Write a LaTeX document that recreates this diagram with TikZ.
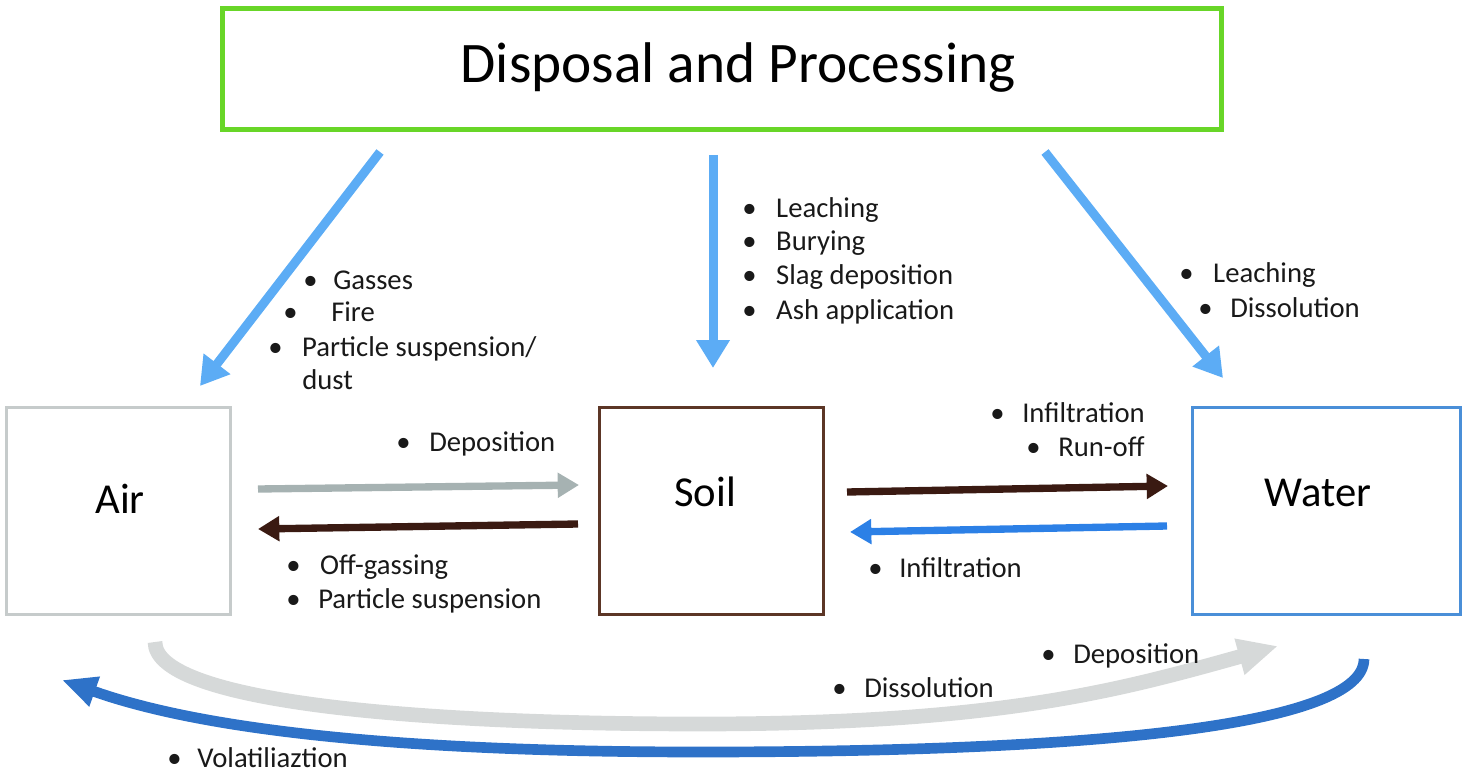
\documentclass[tikz,border=0pt]{standalone}
\usepackage{fontspec}
\setmainfont{Carlito}
\usetikzlibrary{arrows.meta}
\definecolor{boxgreen}{RGB}{104,214,40}
\definecolor{lblue}{RGB}{92,172,245}
\definecolor{airgray}{RGB}{198,203,203}
\definecolor{arrgray}{RGB}{166,178,178}
\definecolor{soilbrown}{RGB}{92,54,38}
\definecolor{dbrown}{RGB}{58,26,18}
\definecolor{waterblue}{RGB}{74,143,216}
\definecolor{arrblue}{RGB}{44,128,230}
\definecolor{curvegray}{RGB}{214,217,217}
\definecolor{curveblue}{RGB}{46,114,200}
\newdimen\pxu \pxu=0.75pt
\tikzset{
  box/.style={draw, minimum width=168pt, minimum height=155pt, inner sep=0pt},
  big/.style={font=\fontsize{32}{36}\selectfont, anchor=base, inner sep=0pt},
  lab/.style={font=\fontsize{21.5}{24}\selectfont, anchor=base west, inner sep=0pt, text=black!90},
  downarr/.style={lblue, line width=6.75pt, -{Triangle[length=21pt,width=24pt]}},
  harr/.style={line width=5.5pt, -{Triangle[length=16pt,width=18pt]}},
}
\newcommand{\bul}[2]{\makebox[#1\pxu][l]{\textbullet}#2}
\begin{document}
\begin{tikzpicture}[x=0.75pt,y=-0.75pt]
\useasboundingbox (0,0) rectangle (1465,774);
% boxes
\node[draw=boxgreen, line width=4pt, minimum width=749pt, minimum height=90.75pt, inner sep=0pt] (top) at (722,69) {};
\node[big, font=\fontsize{43}{48}\selectfont] (toplbl) at (738,83) {Disposal and Processing};
\node[box, draw=airgray, line width=2.25pt] (air) at (118.5,511) {};
\node[big] (airlbl) at (120,513) {Air};
\node[box, draw=soilbrown, line width=2.25pt] (soil) at (711,511) {};
\node[big] (soillbl) at (705,506) {Soil};
\node[box, draw=waterblue, line width=2.25pt, minimum width=201pt] (water) at (1326.5,511) {};
\node[big] (waterlbl) at (1318,506) {Water};
% arrow endpoints
\coordinate (a1s) at (380,152); \coordinate (a1e) at (200,386);
\coordinate (a2s) at (713,155); \coordinate (a2e) at (713,368);
\coordinate (a3s) at (1045,152); \coordinate (a3e) at (1223,378);
\coordinate (g1s) at (258,489); \coordinate (g1e) at (579,485);
\coordinate (b1s) at (578,524); \coordinate (b1e) at (258,529);
\coordinate (b2s) at (847,492); \coordinate (b2e) at (1168,486);
\coordinate (w1s) at (1167,526); \coordinate (w1e) at (850,532);
\draw[downarr] (a1s) -- (a1e);
\draw[downarr] (a2s) -- (a2e);
\draw[downarr] (a3s) -- (a3e);
\draw[harr, arrgray] (g1s) -- (g1e);
\draw[harr, dbrown] (b1s) -- (b1e);
\draw[harr, dbrown] (b2s) -- (b2e);
\draw[harr, arrblue] (w1s) -- (w1e);
% bottom curves
\coordinate (gcs) at (155,642); \coordinate (gcm) at (700,724); \coordinate (gce) at (1278,646);
\draw[curvegray, line width=11pt, -{Triangle[length=30pt,width=26pt]}]
  (gcs) .. controls (155,700) and (400,724) .. (gcm)
        .. controls (1000,724) and (1120,690) .. (gce);
\coordinate (bcs) at (1364,659); \coordinate (bcm) at (700,752); \coordinate (bce) at (62,680);
\draw[curveblue, line width=8pt, -{Triangle[length=26pt,width=22pt]}]
  (bcs) .. controls (1364,725) and (1100,752) .. (bcm)
        .. controls (350,752) and (180,722) .. (bce);
% labels
\node[lab] (t1) at (303,289) {\bul{30}{Gasses}};
\node[lab] (t2) at (283,321) {\bul{48}{Fire}};
\node[lab] (t3) at (268,356) {\bul{34}{Particle suspension/}};
\node[lab] (t4) at (302,389) {dust};
\node[lab] (m1) at (742,217) {\bul{34}{Leaching}};
\node[lab] (m2) at (742,250) {\bul{34}{Burying}};
\node[lab] (m3) at (742,284) {\bul{34}{Slag deposition}};
\node[lab] (m4) at (742,319) {\bul{34}{Ash application}};
\node[lab] (r1) at (1179,282) {\bul{34}{Leaching}};
\node[lab] (r2) at (1198,317) {\bul{32}{Dissolution}};
\node[lab] (d1) at (396,451) {\bul{33}{Deposition}};
\node[lab] (o1) at (286,574) {\bul{34}{Off-gassing}};
\node[lab] (o2) at (286,608) {\bul{32}{Particle suspension}};
\node[lab] (i1) at (990,422) {\bul{32}{Infiltration}};
\node[lab] (i2) at (1026,456) {\bul{32}{Run-off}};
\node[lab] (i3) at (868,577) {\bul{31}{Infiltration}};
\node[lab] (c1) at (1041,663) {\bul{32}{Deposition}};
\node[lab] (c2) at (832,697) {\bul{32}{Dissolution}};
\node[lab] (c3) at (167,767) {\bul{30}{Volatiliaztion}};
\end{tikzpicture}
\end{document}
